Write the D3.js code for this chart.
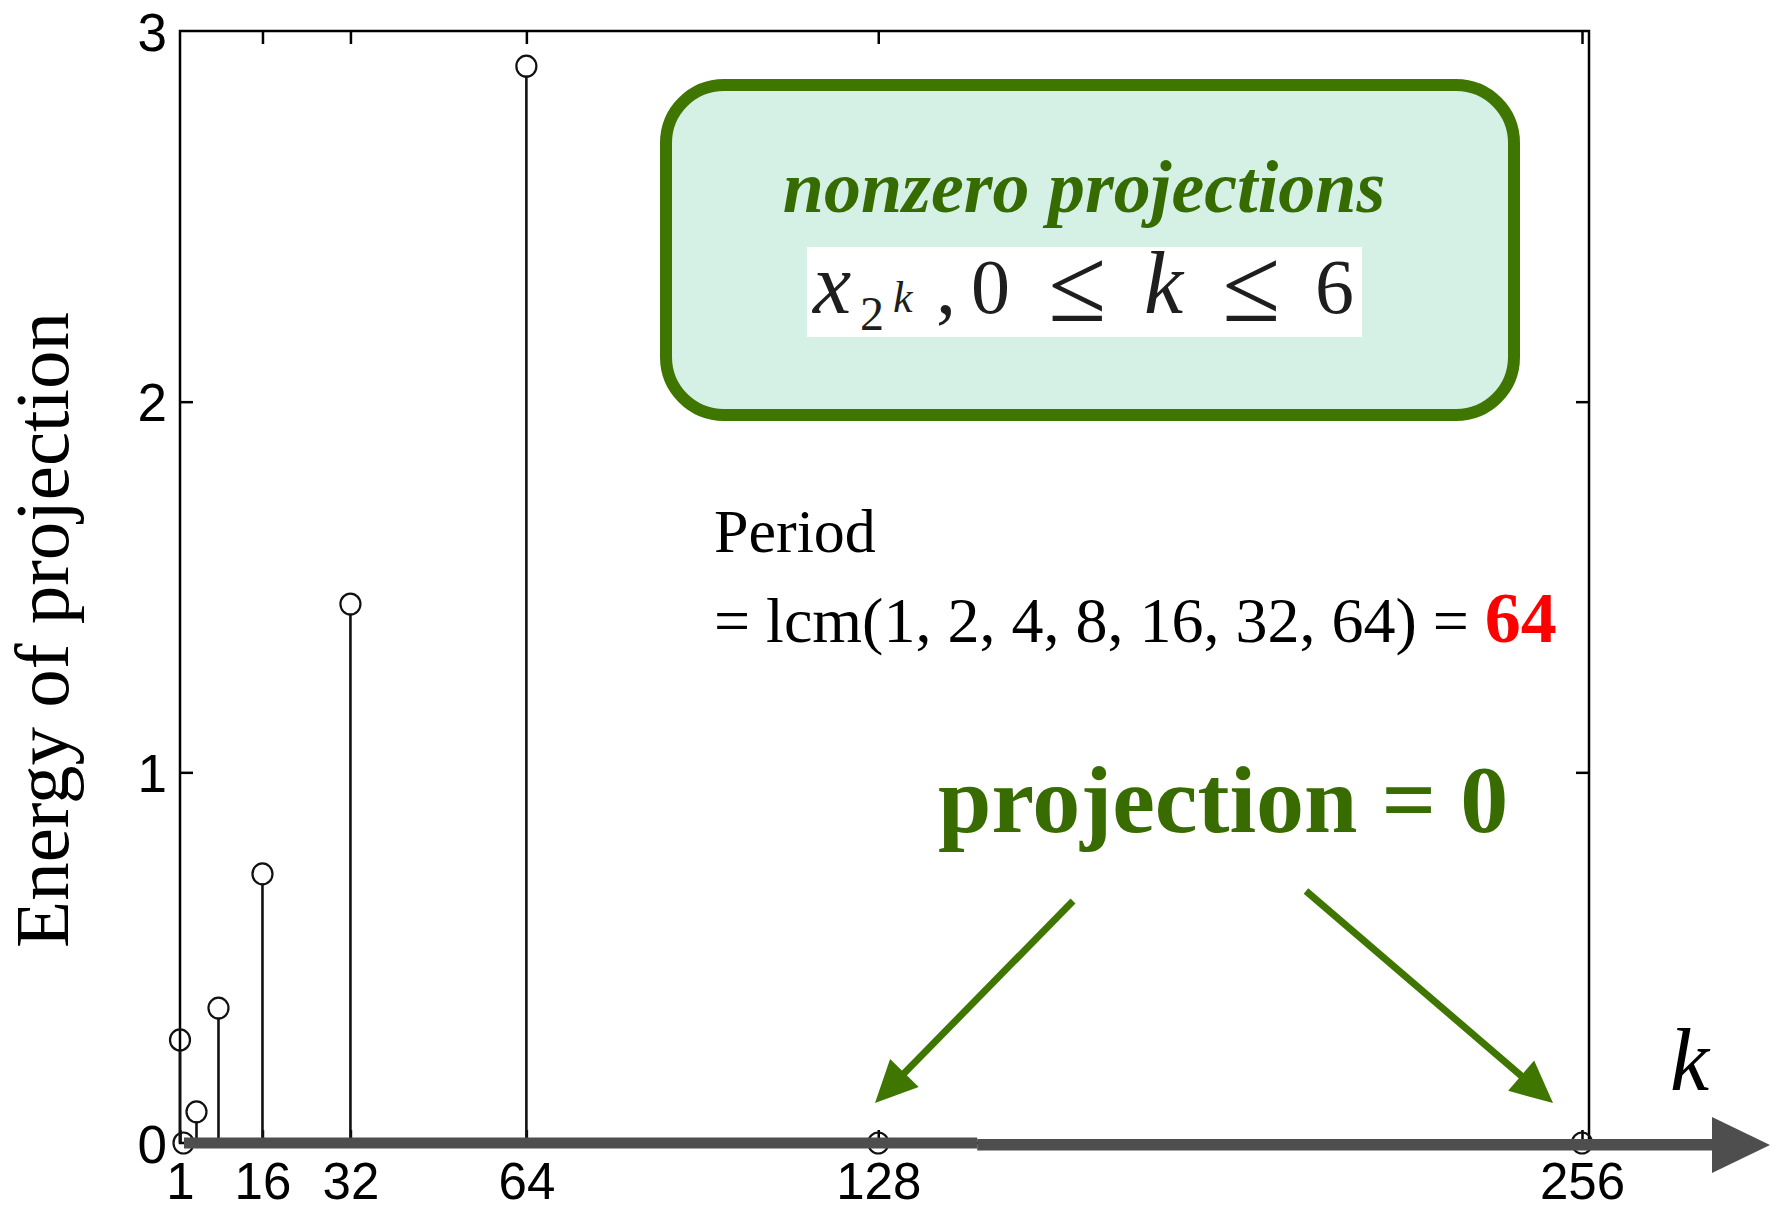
<!DOCTYPE html>
<html>
<head>
<meta charset="utf-8">
<script src="https://d3js.org/d3.v7.min.js"></script>
<style>
  body { margin: 0; background: #fff; }
  svg { display: block; }
  .tick text { font-family: "Liberation Sans", Arial, sans-serif; font-size: 53px; fill: #000; }
  .tick line { stroke: #000; stroke-width: 2.5; }
</style>
</head>
<body>
<div id="c_plot"></div>
<script>
// stem plot data: energy of each projection
var kValues = [1, 2, 4, 8, 16, 32, 64, 128, 256];
var energy  = [0.278, 0, 0.084, 0.364, 0.726, 1.454, 2.905, 0, 0];
var xTicks = [1, 16, 32, 64, 128, 256];
var xTicksTop = [16, 32, 64, 128, 256];
var yTicks = [0, 1, 2, 3];
var yTicksRight = [1, 2];
var lcmArgs = [1, 2, 4, 8, 16, 32, 64];

var W = 1778, H = 1210;
var green = "#3f7600";
var greenText = "#366b00";

var svg = d3.select("#c_plot").append("svg")
  .attr("width", W)
  .attr("height", H);

var x = d3.scaleLinear().domain([1, 256]).range([180, 1582]);
var y = d3.scaleLinear().domain([0, 3]).range([1143, 31]);
var pLeft = x(1), pRight = 1589, pTop = y(3), pBottom = y(0);

// frame
svg.append("rect")
  .attr("x", pLeft).attr("y", pTop)
  .attr("width", pRight - pLeft).attr("height", pBottom - pTop)
  .attr("fill", "none").attr("stroke", "#000").attr("stroke-width", 2.5);

// axes (inward ticks like matlab)
var gl = svg.append("g").attr("transform", "translate(" + pLeft + ",0)")
  .call(d3.axisLeft(y).tickValues(yTicks).tickFormat(d3.format("d"))
    .tickSizeInner(-13).tickSizeOuter(0).tickPadding(13));
var gr = svg.append("g").attr("transform", "translate(" + pRight + ",0)")
  .call(d3.axisRight(y).tickValues(yTicksRight).tickSizeInner(-13).tickSizeOuter(0).tickFormat(""));
var gt = svg.append("g").attr("transform", "translate(0," + pTop + ")")
  .call(d3.axisTop(x).tickValues(xTicksTop).tickSizeInner(-13).tickSizeOuter(0).tickFormat(""));
var gb = svg.append("g").attr("transform", "translate(0," + pBottom + ")")
  .call(d3.axisBottom(x).tickValues(xTicks).tickSizeInner(-13).tickSizeOuter(0).tickPadding(20));
svg.selectAll(".domain").remove();
gl.selectAll(".tick").filter(d => d == 0 || d == 3).select("line").remove();
gl.selectAll(".tick text").attr("dy", "0.36em");
gb.selectAll(".tick text").style("font-size", "51px");

// stems
var pts = kValues.map((k, i) => [k, energy[i]]);
svg.append("g").selectAll("line")
  .data(pts.filter(d => d[1] > 0))
  .enter().append("line")
  .attr("x1", d => x(d[0])).attr("x2", d => x(d[0]))
  .attr("y1", y(0)).attr("y2", d => y(d[1]) + 9.5)
  .attr("stroke", "#111").attr("stroke-width", 2.6);

svg.append("g").selectAll("ellipse")
  .data(pts)
  .enter().append("ellipse")
  .attr("cx", d => x(d[0]) + (d[0] == 2 ? -2 : 0))
  .attr("cy", d => y(d[1]))
  .attr("rx", 10).attr("ry", 10.5)
  .attr("fill", "none").attr("stroke", "#111").attr("stroke-width", 2.2);

// thick k axis with arrow
var barColor = "#4e4e4e";
var step = x(146), tipX = 1770, baseX = 1712;
svg.append("rect").attr("x", x(1) + 4).attr("y", pBottom - 5.5)
  .attr("width", step - x(1) - 4).attr("height", 11).attr("fill", barColor);
svg.append("rect").attr("x", step).attr("y", pBottom - 4)
  .attr("width", baseX - step + 1).attr("height", 11.5).attr("fill", barColor);
svg.append("path")
  .attr("d", "M" + baseX + "," + (pBottom + 2 - 28) + "L" + tipX + "," + (pBottom + 2) + "L" + baseX + "," + (pBottom + 2 + 28) + "Z")
  .attr("fill", barColor);

svg.append("text")
  .attr("x", 1670).attr("y", 1090)
  .attr("font-family", "Liberation Serif, Times New Roman, serif")
  .attr("font-style", "italic").attr("font-size", 88)
  .text("k");

// y label
svg.append("text")
  .attr("transform", "translate(68,630) rotate(-90)")
  .attr("text-anchor", "middle")
  .attr("font-family", "Liberation Serif, Times New Roman, serif")
  .attr("font-size", 77)
  .text("Energy of projection");

// green box
svg.append("rect")
  .attr("x", 666).attr("y", 85).attr("width", 848).attr("height", 330)
  .attr("rx", 58).attr("ry", 58)
  .attr("fill", "#d5f0e4").attr("stroke", green).attr("stroke-width", 12);

svg.append("text")
  .attr("x", 1084).attr("y", 212)
  .attr("text-anchor", "middle")
  .attr("font-family", "Liberation Serif, Times New Roman, serif")
  .attr("font-style", "italic").attr("font-weight", "bold").attr("font-size", 74)
  .attr("fill", greenText)
  .text("nonzero projections");

svg.append("rect").attr("x", 807).attr("y", 247).attr("width", 555).attr("height", 90).attr("fill", "#fff");

var formula = [
  {t: "x", x: 813, y: 313, s: 86, it: true},
  {t: "2", x: 860, y: 330, s: 48},
  {t: "k", x: 893, y: 312, s: 44, it: true},
  {t: ",", x: 936, y: 313, s: 80},
  {t: "0", x: 971, y: 313, s: 78},
  {t: "\u2264", x: 1048, y: 321, s: 106},
  {t: "k", x: 1144, y: 313, s: 88, it: true},
  {t: "\u2264", x: 1222, y: 321, s: 106},
  {t: "6", x: 1315, y: 313, s: 78}
];
svg.append("g").selectAll("text")
  .data(formula)
  .enter().append("text")
  .attr("x", d => d.x).attr("y", d => d.y)
  .attr("font-family", "Liberation Serif, Times New Roman, serif")
  .attr("font-style", d => d.it ? "italic" : "normal")
  .attr("font-size", d => d.s)
  .attr("fill", "#1e1e1e")
  .text(d => d.t);

// period text
svg.append("text")
  .attr("x", 714).attr("y", 552)
  .attr("font-family", "Liberation Serif, Times New Roman, serif")
  .attr("font-size", 62)
  .text("Period");

var line2 = svg.append("text")
  .attr("x", 714).attr("y", 642)
  .attr("font-family", "Liberation Serif, Times New Roman, serif")
  .attr("font-size", 64);
line2.append("tspan").text("= lcm(" + lcmArgs.join(", ") + ") = ");
line2.append("tspan")
  .attr("font-weight", "bold").attr("font-size", 72).attr("fill", "#ff0000")
  .text(lcmArgs[lcmArgs.length - 1]);

svg.append("text")
  .attr("x", 938).attr("y", 832)
  .attr("font-family", "Liberation Serif, Times New Roman, serif")
  .attr("font-weight", "bold").attr("font-size", 96)
  .attr("fill", "#386b00")
  .text("projection = 0");

// green arrows
function arrow(x1, y1, x2, y2)
{
  var dx = x2 - x1, dy = y2 - y1;
  var len = Math.sqrt(dx * dx + dy * dy);
  var ux = dx / len, uy = dy / len;
  var hl = 42, hw = 20;
  var bx = x2 - ux * hl, by = y2 - uy * hl;
  svg.append("line")
    .attr("x1", x1).attr("y1", y1).attr("x2", bx + ux * 4).attr("y2", by + uy * 4)
    .attr("stroke", green).attr("stroke-width", 7);
  svg.append("path")
    .attr("d", "M" + x2 + "," + y2 +
      "L" + (bx - uy * hw) + "," + (by + ux * hw) +
      "L" + (bx + uy * hw) + "," + (by - ux * hw) + "Z")
    .attr("fill", green);
}
arrow(1073, 901, 875, 1103);
arrow(1306, 891, 1553, 1103);
</script>
</body>
</html>
